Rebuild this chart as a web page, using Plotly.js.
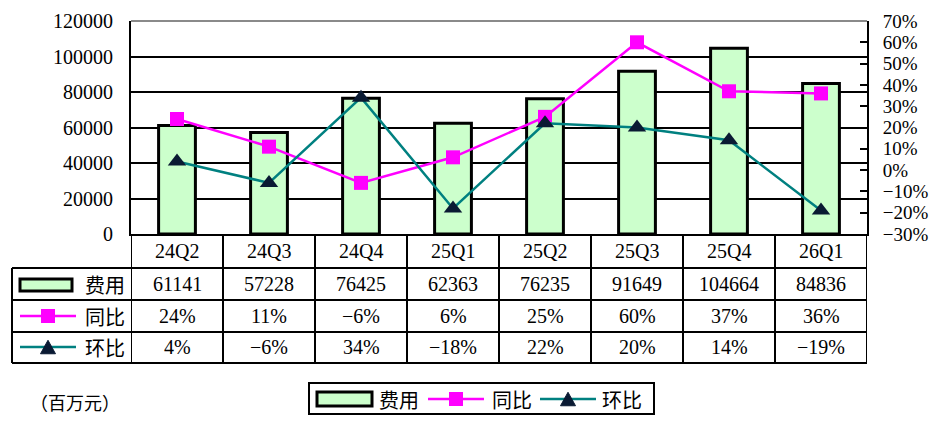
<!DOCTYPE html>
<html>
<head>
<meta charset="utf-8">
<script src="https://cdn.plot.ly/plotly-3.0.1.min.js"></script>
<style>
  html, body { margin: 0; padding: 0; background: #fff; }
  #chart { width: 934px; height: 434px; }
</style>
</head>
<body>
<div id="chart"></div>
<script>
// ── Data ──
const QUARTERS = ["24Q2", "24Q3", "24Q4", "25Q1", "25Q2", "25Q3", "25Q4", "26Q1"];
const EXPENSE = [61141, 57228, 76425, 62363, 76235, 91649, 104664, 84836];
const YOY = [24, 11, -6, 6, 25, 60, 37, 36];   // 同比, %
const QOQ = [4, -6, 34, -18, 22, 20, 14, -19];  // 环比, %
const SERIES_NAMES = ["费用", "同比", "环比"];
const UNIT_LABEL = "（百万元）";

// ── Page geometry (pixels -> paper) ──
const W = 934, H = 434;
const px = (x) => x / W;
const py = (y) => 1 - y / H;

const PLOT_L = 131, PLOT_R = 867, PLOT_T = 21, PLOT_B = 234;
const ROW_LINES = [268, 300, 332, 363];
const ROW_MID = [251, 284, 316, 347];
const TABLE_L = 12;

const NUM_FONT = "'Liberation Serif', 'Noto Sans CJK SC', serif";
const CJK_FONT = "'Noto Sans CJK SC', sans-serif";
const GREEN = "#CCFFCC", MAGENTA = "#FF00FF", TEAL = "#008080", NAVY = "#0A1A33";

const pct = (v) => (v < 0 ? "\u2212" + Math.abs(v) : String(v)) + "%";

// ── Small helpers for the hand-drawn legend symbols ──
function hline(x0, x1, y, color, width) {
  return { type: "line", xref: "paper", yref: "paper",
    x0: px(x0), x1: px(x1), y0: py(y), y1: py(y),
    line: { color, width } };
}
function vline(x, y0, y1, color, width) {
  return { type: "line", xref: "paper", yref: "paper",
    x0: px(x), x1: px(x), y0: py(y0), y1: py(y1),
    line: { color, width } };
}
function box(x0, x1, y0, y1, fill, lineColor, lineWidth) {
  return { type: "rect", xref: "paper", yref: "paper",
    x0: px(x0), x1: px(x1), y0: py(y1), y1: py(y0),
    fillcolor: fill, line: { color: lineColor, width: lineWidth } };
}
function tri(cx, cy, s, color) {
  const h = s * 0.9;
  const p = [[cx - s / 2, cy + h / 2], [cx + s / 2, cy + h / 2], [cx, cy - h / 2]];
  return { type: "path", xref: "paper", yref: "paper",
    path: "M " + p.map((q) => px(q[0]) + "," + py(q[1])).join(" L ") + " Z",
    fillcolor: color, line: { color: color, width: 1 } };
}
function label(text, x, y, font, size) {
  return { xref: "paper", yref: "paper", x: px(x), y: py(y),
    xanchor: "center", yanchor: "middle", showarrow: false,
    text, font: { family: font, size, color: "#000" } };
}

// ── Traces ──
const traces = [
  {
    type: "bar",
    name: SERIES_NAMES[0],
    x: QUARTERS,
    y: EXPENSE,
    marker: { color: GREEN, line: { color: "#000", width: 3 } },
    hoverinfo: "skip",
  },
  {
    type: "scatter",
    mode: "lines+markers",
    name: SERIES_NAMES[1],
    x: QUARTERS,
    y: YOY.map((v) => v / 100),
    yaxis: "y2",
    line: { color: MAGENTA, width: 2.5 },
    marker: { symbol: "square", size: 14, color: MAGENTA },
    hoverinfo: "skip",
  },
  {
    type: "scatter",
    mode: "lines+markers",
    name: SERIES_NAMES[2],
    x: QUARTERS,
    y: QOQ.map((v) => v / 100),
    yaxis: "y2",
    line: { color: TEAL, width: 2.5 },
    marker: { symbol: "triangle-up", size: 16, color: NAVY, line: { color: NAVY, width: 0 } },
    hoverinfo: "skip",
  },
];

// ── Data table under the plot ──
const shapes = [];
const annotations = [];

// table grid
ROW_LINES.forEach((y) => shapes.push(hline(TABLE_L, PLOT_R, y, "#000", 2)));
shapes.push(vline(TABLE_L, ROW_LINES[0], ROW_LINES[3], "#000", 2));
for (let i = 0; i <= QUARTERS.length; i++) {
  shapes.push({ type: "line", xref: "x", yref: "paper",
    x0: i - 0.5, x1: i - 0.5, y0: py(PLOT_B), y1: py(ROW_LINES[3]),
    line: { color: "#000", width: 2 } });
}
// gray frame on top of plot area
shapes.push(hline(PLOT_L, PLOT_R, PLOT_T, "#8a8a8a", 2));

const rows = [
  QUARTERS,
  EXPENSE.map(String),
  YOY.map(pct),
  QOQ.map(pct),
];
rows.forEach((vals, r) => {
  vals.forEach((v, i) => {
    annotations.push({ xref: "x", yref: "paper", x: QUARTERS[i], y: py(ROW_MID[r]),
      xanchor: "center", yanchor: "middle", showarrow: false, text: v,
      font: { family: NUM_FONT, size: 20, color: "#000" } });
  });
});

// row headers with series symbols
shapes.push(box(20, 72, 279, 291, GREEN, "#000", 3));
annotations.push(label(SERIES_NAMES[0], 105, ROW_MID[1], CJK_FONT, 20));
shapes.push(hline(20, 76, ROW_MID[2], MAGENTA, 2.5));
shapes.push(box(41, 55, ROW_MID[2] - 7, ROW_MID[2] + 7, MAGENTA, MAGENTA, 0));
annotations.push(label(SERIES_NAMES[1], 105, ROW_MID[2], CJK_FONT, 20));
shapes.push(hline(20, 76, ROW_MID[3], TEAL, 2.5));
shapes.push(tri(48, ROW_MID[3], 15, NAVY));
annotations.push(label(SERIES_NAMES[2], 105, ROW_MID[3], CJK_FONT, 20));

// ── Bottom legend ──
const LEG_Y = 399;
shapes.push(box(309, 654, 383, 414, "rgba(0,0,0,0)", "#000", 2));
shapes.push(box(317, 372, 392, 406, GREEN, "#000", 3));
annotations.push(label(SERIES_NAMES[0], 399, LEG_Y, CJK_FONT, 20));
shapes.push(hline(428, 484, LEG_Y, MAGENTA, 2.5));
shapes.push(box(449, 463, LEG_Y - 7, LEG_Y + 7, MAGENTA, MAGENTA, 0));
annotations.push(label(SERIES_NAMES[1], 512, LEG_Y, CJK_FONT, 20));
shapes.push(hline(540, 596, LEG_Y, TEAL, 2.5));
shapes.push(tri(568, LEG_Y, 15, NAVY));
annotations.push(label(SERIES_NAMES[2], 622, LEG_Y, CJK_FONT, 20));

annotations.push(label(UNIT_LABEL, 75, 402, CJK_FONT, 18));

// ── Layout ──
const layout = {
  width: W,
  height: H,
  margin: { t: 0, r: 0, b: 0, l: 0 },
  paper_bgcolor: "#fff",
  plot_bgcolor: "#fff",
  showlegend: false,
  bargap: 0.6,
  xaxis: {
    type: "category",
    domain: [px(PLOT_L), px(PLOT_R)],
    range: [-0.5, QUARTERS.length - 0.5],
    showticklabels: false,
    showgrid: false,
    zeroline: false,
    showline: true,
    linecolor: "#000",
    linewidth: 2,
    ticks: "",
    fixedrange: true,
  },
  yaxis: {
    domain: [py(PLOT_B), py(PLOT_T)],
    range: [0, 120000],
    dtick: 20000,
    tickformat: "d",
    tickfont: { family: NUM_FONT, size: 20, color: "#000" },
    gridcolor: "#000",
    gridwidth: 2,
    showline: true,
    linecolor: "#000",
    linewidth: 2,
    zeroline: false,
    ticks: "",
    ticklabelstandoff: 12,
    fixedrange: true,
  },
  yaxis2: {
    overlaying: "y",
    side: "right",
    range: [-0.3, 0.7],
    tick0: 0,
    dtick: 0.1,
    tickformat: ".0%",
    tickfont: { family: NUM_FONT, size: 19, color: "#000" },
    showgrid: false,
    zeroline: false,
    showline: true,
    linecolor: "#000",
    linewidth: 2,
    ticks: "inside",
    ticklen: 7,
    tickwidth: 2,
    tickcolor: "#000",
    ticklabelstandoff: 10,
    fixedrange: true,
  },
  shapes,
  annotations,
};

Plotly.newPlot("chart", traces, layout, { staticPlot: true, displayModeBar: false });
</script>
</body>
</html>
